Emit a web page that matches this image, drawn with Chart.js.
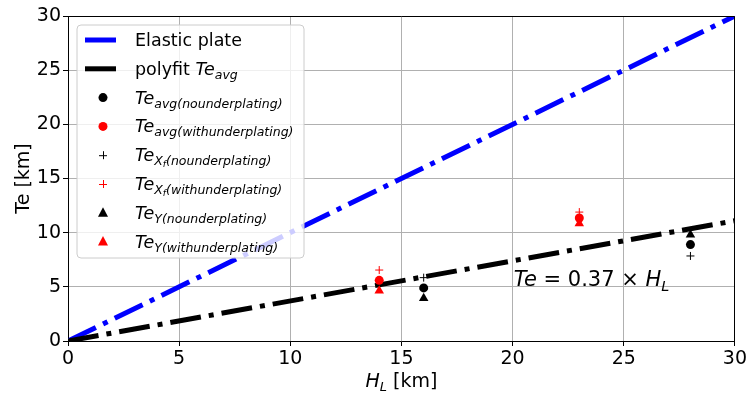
<!DOCTYPE html>
<html><head><meta charset="utf-8">
<script src="https://cdn.jsdelivr.net/npm/chart.js@4"></script>
<style>html,body{margin:0;padding:0;background:#fff}#wrap{width:749px;height:394px}</style>
</head><body><div id="wrap"><canvas id="c" width="749" height="394"></canvas></div>
<script>
// ---- data ----
const lineHL = [0, 30];
const elasticTe = [0, 30];
const polyfitTe = [0, 11.1];
const hlNoUnder = [16, 28];
const hlWithUnder = [14, 23];
const teAvgNo = [4.9, 8.9];
const teAvgWith = [5.6, 11.35];
const teXfNo = [5.85, 7.85];
const teXfWith = [6.55, 11.9];
const teYNo = [3.95, 9.8];
const teYWith = [4.65, 10.85];
const xTicks = [0, 5, 10, 15, 20, 25, 30];
const yTicks = [0, 5, 10, 15, 20, 25, 30];

const FONT = '"DejaVu Sans", sans-serif';
const pts = (xs, ys) => xs.map((x, i) => ({x, y: ys[i]}));
const DASH = [31, 8, 5, 8];

function richText(ctx, parts, x, y, measureOnly) {
  let cx = x;
  for (const p of parts) {
    ctx.font = (p.italic ? 'italic ' : '') + p.size + 'px ' + FONT;
    if (!measureOnly) ctx.fillText(p.t, cx, y + (p.dy || 0));
    cx += ctx.measureText(p.t).width;
  }
  return cx - x;
}
function marker(ctx, style, x, y, color) {
  ctx.save();
  ctx.fillStyle = color; ctx.strokeStyle = color;
  if (style === 'circle') { ctx.beginPath(); ctx.arc(x, y, 4.5, 0, Math.PI * 2); ctx.fill(); }
  else if (style === 'triangle') { ctx.beginPath(); ctx.moveTo(x, y - 5.5); ctx.lineTo(x + 5, y + 4); ctx.lineTo(x - 5, y + 4); ctx.closePath(); ctx.fill(); }
  else { ctx.lineWidth = 1; ctx.beginPath(); ctx.moveTo(x - 4, y + 0.5); ctx.lineTo(x + 4, y + 0.5); ctx.moveTo(x + 0.5, y - 4); ctx.lineTo(x + 0.5, y + 4); ctx.stroke(); }
  ctx.restore();
}

const legendItems = [
  {kind: 'line', color: '#0000ff', parts: [{t: 'Elastic plate', size: 17.5}]},
  {kind: 'line', color: '#000000', parts: [{t: 'polyfit ', size: 17.5}, {t: 'Te', size: 17.5, italic: true}, {t: 'avg', size: 12.5, italic: true, dy: 4}]},
  {kind: 'circle', color: '#000000', sub: 'avg(nounderplating)'},
  {kind: 'circle', color: '#ff0000', sub: 'avg(withunderplating)'},
  {kind: 'cross', color: '#000000', sub: 'X', sub2: 'f', sub3: '(nounderplating)'},
  {kind: 'cross', color: '#ff0000', sub: 'X', sub2: 'f', sub3: '(withunderplating)'},
  {kind: 'triangle', color: '#000000', sub: 'Y(nounderplating)'},
  {kind: 'triangle', color: '#ff0000', sub: 'Y(withunderplating)'}
];

const decor = {
  id: 'decor',
  afterDatasetsDraw(chart) {
    const ctx = chart.ctx;
    ctx.save();
    const lx = 77, ly = 25, lw = 227, lh = 233, r = 4;
    ctx.beginPath();
    ctx.moveTo(lx + r, ly); ctx.arcTo(lx + lw, ly, lx + lw, ly + lh, r);
    ctx.arcTo(lx + lw, ly + lh, lx, ly + lh, r); ctx.arcTo(lx, ly + lh, lx, ly, r);
    ctx.arcTo(lx, ly, lx + lw, ly, r); ctx.closePath();
    ctx.fillStyle = 'rgba(255,255,255,0.8)'; ctx.fill();
    ctx.strokeStyle = '#cccccc'; ctx.lineWidth = 1; ctx.stroke();
    ctx.textBaseline = 'alphabetic'; ctx.textAlign = 'left';
    legendItems.forEach((it, i) => {
      const cy = 40 + i * 28.8;
      if (it.kind === 'line') {
        ctx.strokeStyle = it.color; ctx.lineWidth = 5; ctx.setLineDash([]); ctx.lineCap = 'butt';
        ctx.beginPath(); ctx.moveTo(85, cy); ctx.lineTo(116, cy); ctx.stroke();
      } else marker(ctx, it.kind, 103, cy, it.color);
      ctx.fillStyle = '#000';
      let parts = it.parts;
      if (!parts) {
        parts = [{t: 'Te', size: 17.5, italic: true}, {t: it.sub, size: 12.5, italic: true, dy: 4}];
        if (it.sub2) { parts.push({t: it.sub2, size: 9, italic: true, dy: 6}); parts.push({t: it.sub3, size: 12.5, italic: true, dy: 4}); }
      }
      richText(ctx, parts, 135, cy + 6, false);
    });
    ctx.restore();
  },
  afterDraw(chart) {
    const ctx = chart.ctx, a = chart.chartArea;
    ctx.save();
    ctx.strokeStyle = '#000'; ctx.lineWidth = 1;
    ctx.beginPath();
    ctx.moveTo(Math.round(a.left) + 0.5, Math.round(a.top) + 0.5);
    ctx.lineTo(Math.round(a.right) - 0.5, Math.round(a.top) + 0.5);
    ctx.lineTo(Math.round(a.right) - 0.5, Math.round(a.bottom));
    ctx.stroke();
    ctx.fillStyle = '#000'; ctx.textAlign = 'left'; ctx.textBaseline = 'alphabetic';
    const xs = chart.scales.x, ys = chart.scales.y;
    richText(ctx, [{t: 'Te', size: 21, italic: true}, {t: ' = 0.37 × ', size: 21}, {t: 'H', size: 21, italic: true}, {t: 'L', size: 14.5, italic: true, dy: 5}], xs.getPixelForValue(20.05), ys.getPixelForValue(5.0) - 1, false);
    const xp = [{t: 'H', size: 19, italic: true}, {t: 'L', size: 13, italic: true, dy: 4}, {t: ' [km]', size: 19}];
    const w = richText(ctx, xp, 0, 0, true);
    richText(ctx, xp, (a.left + a.right) / 2 - w / 2, 387, false);
    ctx.translate(29, (a.top + a.bottom) / 2);
    ctx.rotate(-Math.PI / 2);
    ctx.font = '19px ' + FONT; ctx.textAlign = 'center';
    ctx.fillText('Te [km]', 0, 0);
    ctx.restore();
  }
};

const axisCommon = (ticks) => ({
  type: 'linear', min: 0, max: 30,
  afterBuildTicks: (s) => { s.ticks = ticks.map(v => ({value: v})); },
  ticks: {color: '#000', font: {family: FONT, size: 19}, padding: 2},
  grid: {color: '#b0b0b0', lineWidth: 1, tickColor: '#000', tickLength: 5},
  border: {color: '#000', width: 1}
});
const xAxis = axisCommon(xTicks);
xAxis.afterFit = (s) => { s.height = 53; };
const yAxis = axisCommon(yTicks);
yAxis.afterFit = (s) => { s.width = 68; };

new Chart(document.getElementById('c'), {
  type: 'scatter',
  data: {
    datasets: [
      {type: 'line', data: pts(lineHL, elasticTe), borderColor: '#0000ff', borderWidth: 5, borderDash: DASH, borderCapStyle: 'butt', pointRadius: 0, fill: false, order: 10},
      {type: 'line', data: pts(lineHL, polyfitTe), borderColor: '#000000', borderWidth: 5, borderDash: DASH, borderCapStyle: 'butt', pointRadius: 0, fill: false, order: 9},
      {data: pts(hlNoUnder, teAvgNo), pointStyle: 'circle', pointRadius: 4.5, backgroundColor: '#000', borderColor: '#000', borderWidth: 0, order: 1},
      {data: pts(hlWithUnder, teAvgWith), pointStyle: 'circle', pointRadius: 4.5, backgroundColor: '#f00', borderColor: '#f00', borderWidth: 0, order: 1},
      {data: pts(hlNoUnder, teXfNo), pointStyle: 'cross', pointRadius: 4, backgroundColor: '#000', borderColor: '#000', borderWidth: 1, order: 1},
      {data: pts(hlWithUnder, teXfWith), pointStyle: 'cross', pointRadius: 4, backgroundColor: '#f00', borderColor: '#f00', borderWidth: 1, order: 1},
      {data: pts(hlNoUnder, teYNo), pointStyle: 'triangle', pointRadius: 5.5, backgroundColor: '#000', borderColor: '#000', borderWidth: 0, order: 1},
      {data: pts(hlWithUnder, teYWith), pointStyle: 'triangle', pointRadius: 5.5, backgroundColor: '#f00', borderColor: '#f00', borderWidth: 0, order: 1}
    ]
  },
  options: {
    responsive: false, animation: false, devicePixelRatio: 1,
    layout: {padding: {top: 16, right: 14, left: 0, bottom: 0}},
    plugins: {legend: {display: false}, tooltip: {enabled: false}},
    scales: {x: xAxis, y: yAxis}
  },
  plugins: [decor]
});
</script></body></html>
